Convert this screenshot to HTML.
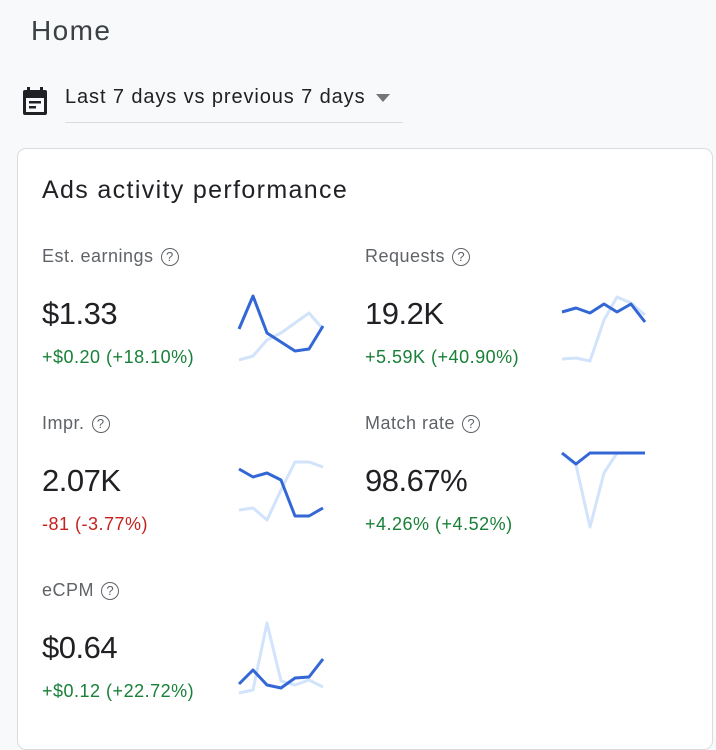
<!DOCTYPE html>
<html><head><style>
body{margin:0;width:716px;height:735px;background:#f8f9fa;font-family:"Liberation Sans",sans-serif;position:relative;overflow:hidden;color:#202124}
.a{position:absolute;white-space:nowrap}
.card{position:absolute;left:17px;top:148px;width:694px;height:600px;background:#fff;border:1px solid #dadce0;border-radius:9px}
.lbl{font-size:18px;color:#5f6368;letter-spacing:0.5px}
.val{font-size:31px;color:#202124;letter-spacing:-0.5px}
.g{font-size:18px;color:#188038;letter-spacing:0.5px}
.r{font-size:18px;color:#c5221f;letter-spacing:0.5px}
.q{display:inline-block;width:16px;height:16px;border:1.8px solid #5f6368;border-radius:50%;font-size:13px;line-height:16px;text-align:center;color:#5f6368;letter-spacing:0;vertical-align:1px;margin-left:7px}
svg{position:absolute;left:0;top:0}
</style></head><body>
<div class="a" style="left:31px;top:15px;font-size:28px;color:#3c4043;letter-spacing:1.4px">Home</div>
<svg width="716" height="735" style="z-index:1">
<rect x="23" y="90" width="24" height="25" rx="2" fill="#202124"/>
<rect x="27" y="87" width="3" height="6" fill="#202124"/><rect x="40" y="87" width="3" height="6" fill="#202124"/>
<rect x="26" y="98" width="18" height="14" fill="#f8f9fa"/>
<rect x="29" y="101" width="12" height="2.5" fill="#202124"/><rect x="29" y="106" width="7" height="2.5" fill="#202124"/>
<polygon points="376,94 390,94 383,102" fill="#757575"/>
<line x1="65" y1="122.5" x2="403" y2="122.5" stroke="#dadce0"/>
</svg>
<div class="a" style="left:65px;top:86px;font-size:20px;color:#202124;letter-spacing:0.9px">Last 7 days vs previous 7 days</div>
<div class="card"></div>
<div class="a" style="left:42px;top:176px;font-size:25px;letter-spacing:1.35px">Ads activity performance</div>

<div class="a lbl" style="left:42px;top:246px">Est. earnings<span class="q">?</span></div>
<div class="a val" style="left:42px;top:296px">$1.33</div>
<div class="a g" style="left:42px;top:347px">+$0.20 (+18.10%)</div>

<div class="a lbl" style="left:365px;top:246px">Requests<span class="q">?</span></div>
<div class="a val" style="left:365px;top:296px">19.2K</div>
<div class="a g" style="left:365px;top:347px">+5.59K (+40.90%)</div>

<div class="a lbl" style="left:42px;top:413px">Impr.<span class="q">?</span></div>
<div class="a val" style="left:42px;top:463px">2.07K</div>
<div class="a r" style="left:42px;top:514px">-81 (-3.77%)</div>

<div class="a lbl" style="left:365px;top:413px">Match rate<span class="q">?</span></div>
<div class="a val" style="left:365px;top:463px">98.67%</div>
<div class="a g" style="left:365px;top:514px">+4.26% (+4.52%)</div>

<div class="a lbl" style="left:42px;top:580px">eCPM<span class="q">?</span></div>
<div class="a val" style="left:42px;top:630px">$0.64</div>
<div class="a g" style="left:42px;top:681px">+$0.12 (+22.72%)</div>

<svg width="716" height="735" style="z-index:2" fill="none" stroke-width="3" stroke-linejoin="round">
<g stroke="#d2e3fc">
<polyline points="239,360 253,356 267,340 281,333 295,323 309,313 323,329"/>
<polyline points="562,359 576,358 590,361 604,320 617,297 631,303 645,315"/>
<polyline points="239,510 253,508 267,520 281,490 295,462 309,462 323,467"/>
<polyline points="562,453 576,465 590,527 604,473 617,453 631,453 645,453"/>
<polyline points="239,693 253,690 267,623 281,681 295,685 309,680 323,687"/>
</g>
<g stroke="#3367d6">
<polyline points="239,329 253,296 267,333 281,342 295,351 309,349 323,326"/>
<polyline points="562,312 576,308 590,313 604,304 617,312 631,304 645,322"/>
<polyline points="239,469 253,477 267,473 281,480 295,516 309,516 323,508"/>
<polyline points="562,453 576,464 590,453 604,453 617,453 631,453 645,453"/>
<polyline points="239,684 253,670 267,685 281,688 295,678 309,677 323,659"/>
</g>
</svg>
</body></html>
